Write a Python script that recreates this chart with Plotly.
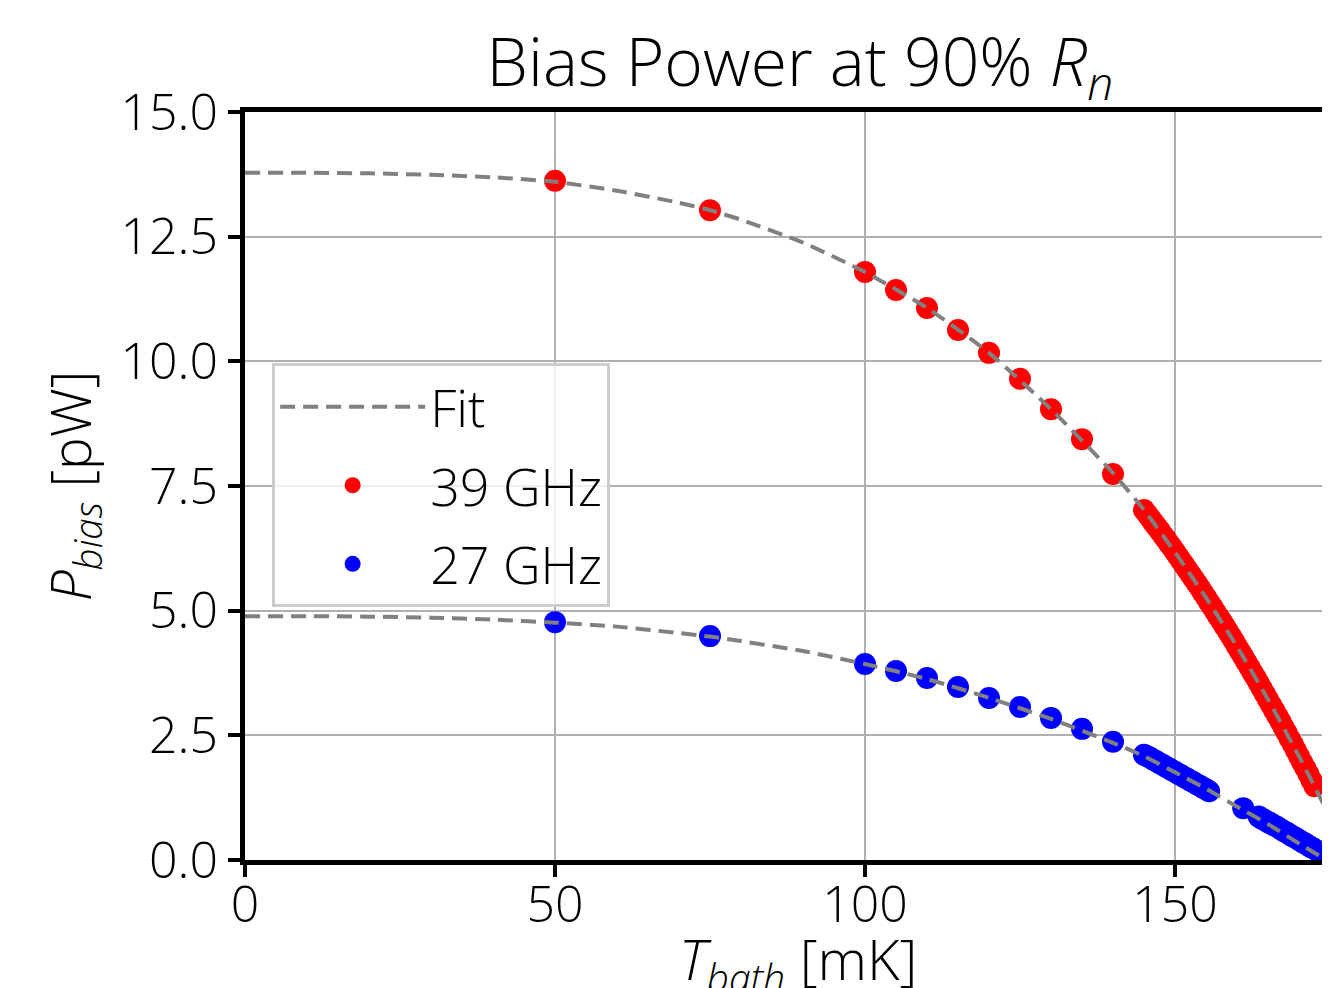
import plotly.graph_objects as go

# ---- data ----
t_red = [50, 75, 100, 105, 110, 115, 120, 125, 130, 135, 140,
         145.0, 145.5, 146.0, 146.5, 147.0, 147.5, 148.0, 148.5, 149.0, 149.5,
         150.0, 150.5, 151.0, 151.5, 152.0, 152.5, 153.0, 153.5, 154.0, 154.5,
         155.0, 155.5, 156.0, 156.5, 157.0, 157.5, 158.0, 158.5, 159.0, 159.5,
         160.0, 160.5, 161.0, 161.5, 162.0, 162.5, 163.0, 163.5, 164.0, 164.5,
         165.0, 165.5, 166.0, 166.5, 167.0, 167.5, 168.0, 168.5, 169.0, 169.5,
         170.0, 170.5, 171.0, 171.5, 172.0, 172.5]
p_red = [13.62, 13.03, 11.79, 11.43, 11.07, 10.63, 10.17, 9.65, 9.04, 8.44, 7.74,
         7.02, 6.94, 6.86, 6.77, 6.69, 6.61, 6.52, 6.44, 6.35, 6.27,
         6.18, 6.09, 6.00, 5.91, 5.82, 5.73, 5.64, 5.55, 5.46, 5.36,
         5.27, 5.17, 5.08, 4.98, 4.88, 4.79, 4.69, 4.59, 4.49, 4.39,
         4.28, 4.18, 4.08, 3.97, 3.87, 3.76, 3.66, 3.55, 3.44, 3.33,
         3.22, 3.11, 3.00, 2.89, 2.78, 2.66, 2.55, 2.43, 2.32, 2.20,
         2.08, 1.96, 1.85, 1.73, 1.60, 1.48]

t_blue = [50, 75, 100, 105, 110, 115, 120, 125, 130, 135, 140,
          145.0, 145.5, 146.0, 146.5, 147.0, 147.5, 148.0, 148.5, 149.0, 149.5,
          150.0, 150.5, 151.0, 151.5, 152.0, 152.5, 153.0, 153.5, 154.0, 154.5,
          155.0, 155.5, 161.0,
          163.5, 164.0, 164.5, 165.0, 165.5, 166.0, 166.5, 167.0, 167.5, 168.0,
          168.5, 169.0, 169.5, 170.0, 170.5, 171.0, 171.5, 172.0, 172.5, 173.0, 173.5]
p_blue = [4.77, 4.49, 3.93, 3.79, 3.65, 3.47, 3.25, 3.07, 2.85, 2.63, 2.37,
          2.11, 2.08, 2.05, 2.01, 1.98, 1.94, 1.91, 1.87, 1.84, 1.80,
          1.77, 1.73, 1.70, 1.66, 1.63, 1.59, 1.56, 1.52, 1.49, 1.45,
          1.42, 1.38, 1.04,
          0.87, 0.83, 0.80, 0.76, 0.73, 0.69, 0.66, 0.62, 0.58, 0.55,
          0.51, 0.47, 0.44, 0.40, 0.36, 0.33, 0.29, 0.25, 0.22, 0.18, 0.14]

# fit curves
t_fit_red = [0, 10, 20, 30, 40, 50, 60, 70, 75, 80, 90, 100, 110, 120, 130,
             140, 145, 150, 155, 160, 165, 170, 175]
p_fit_red = [13.78, 13.78, 13.77, 13.74, 13.69, 13.60, 13.42, 13.18, 13.03, 12.84,
             12.38, 11.79, 11.07, 10.17, 9.04, 7.76, 7.02, 6.17, 5.26, 4.28,
             3.22, 2.08, 0.86]
t_fit_blue = [0, 10, 20, 30, 40, 50, 60, 70, 75, 80, 90, 100, 110, 120, 130,
              140, 145, 150, 155, 160, 165, 170, 174]
p_fit_blue = [4.89, 4.89, 4.88, 4.86, 4.82, 4.76, 4.68, 4.55, 4.48, 4.39,
              4.19, 3.93, 3.63, 3.25, 2.83, 2.35, 2.08, 1.76, 1.43, 1.07,
              0.72, 0.33, 0.03]

x_ticks = [0, 50, 100, 150]
y_ticks = [0, 2.5, 5, 7.5, 10, 12.5, 15]
y_tick_text = ["0.0", "2.5", "5.0", "7.5", "10.0", "12.5", "15.0"]

FONT = "Open Sans"
DASH = "15px,8px"

fig = go.Figure()
fig.add_trace(go.Scatter(x=t_red, y=p_red, mode="markers", name="39 GHz",
                         marker=dict(color="#ff0000", size=22),
                         legendgroup="r", legendrank=2))
fig.add_trace(go.Scatter(x=t_blue, y=p_blue, mode="markers", name="27 GHz",
                         marker=dict(color="#0000ff", size=22),
                         legendgroup="b", legendrank=3))
fig.add_trace(go.Scatter(x=t_fit_red, y=p_fit_red, mode="lines", name="Fit",
                         line=dict(color="#808080", width=4, dash=DASH,
                                   shape="spline", smoothing=0.6),
                         legendgroup="f", legendrank=1))
fig.add_trace(go.Scatter(x=t_fit_blue, y=p_fit_blue, mode="lines", name="Fit",
                         line=dict(color="#808080", width=4, dash=DASH,
                                   shape="spline", smoothing=0.6),
                         legendgroup="f", showlegend=False))

fig.update_layout(
    width=1322, height=1000,
    margin=dict(l=237, r=0, t=104, b=148),
    paper_bgcolor="white", plot_bgcolor="white",
    font=dict(family=FONT, size=48, color="black", weight=300),
    title=dict(text="Bias Power at 90% <i>R</i><sub><i>n</i></sub>",
               x=0.599, xanchor="center", y=1 - 55 / 1000, yanchor="middle",
               font=dict(size=66, weight=300)),
    showlegend=True,
    legend=dict(x=0.025, y=0.664, xanchor="left", yanchor="top",
                bgcolor="rgba(255,255,255,0.8)", bordercolor="#cccccc",
                borderwidth=3, font=dict(size=52, weight=300),
                traceorder="grouped", tracegroupgap=8, itemwidth=145),
    annotations=[dict(text="<i>T</i><sub><i>bath</i></sub> [mK]",
                      xref="paper", yref="paper", x=0.51, y=-0.078,
                      xanchor="center", yanchor="top", showarrow=False,
                      font=dict(size=56, weight=300))],
)

fig.update_xaxes(
    range=[0, 175], tickvals=x_ticks, ticktext=[str(v) for v in x_ticks],
    tickfont=dict(size=50),
    showline=True, linecolor="black", linewidth=5, mirror=True,
    ticks="outside", ticklen=12, tickwidth=4, tickcolor="black",
    ticklabelstandoff=-15,
    showgrid=True, gridcolor="#b0b0b0", gridwidth=2, zeroline=False,
)
fig.update_yaxes(
    range=[0, 15], tickvals=y_ticks, ticktext=y_tick_text,
    tickfont=dict(size=50),
    showline=True, linecolor="black", linewidth=5, mirror=False,
    ticks="outside", ticklen=12, tickwidth=4, tickcolor="black",
    showgrid=True, gridcolor="#b0b0b0", gridwidth=2, zeroline=False,
    title=dict(text="<i>P</i><sub><i>bias</i></sub> [pW]", standoff=13,
               font=dict(size=55)),
)

fig.write_html("out.html")
